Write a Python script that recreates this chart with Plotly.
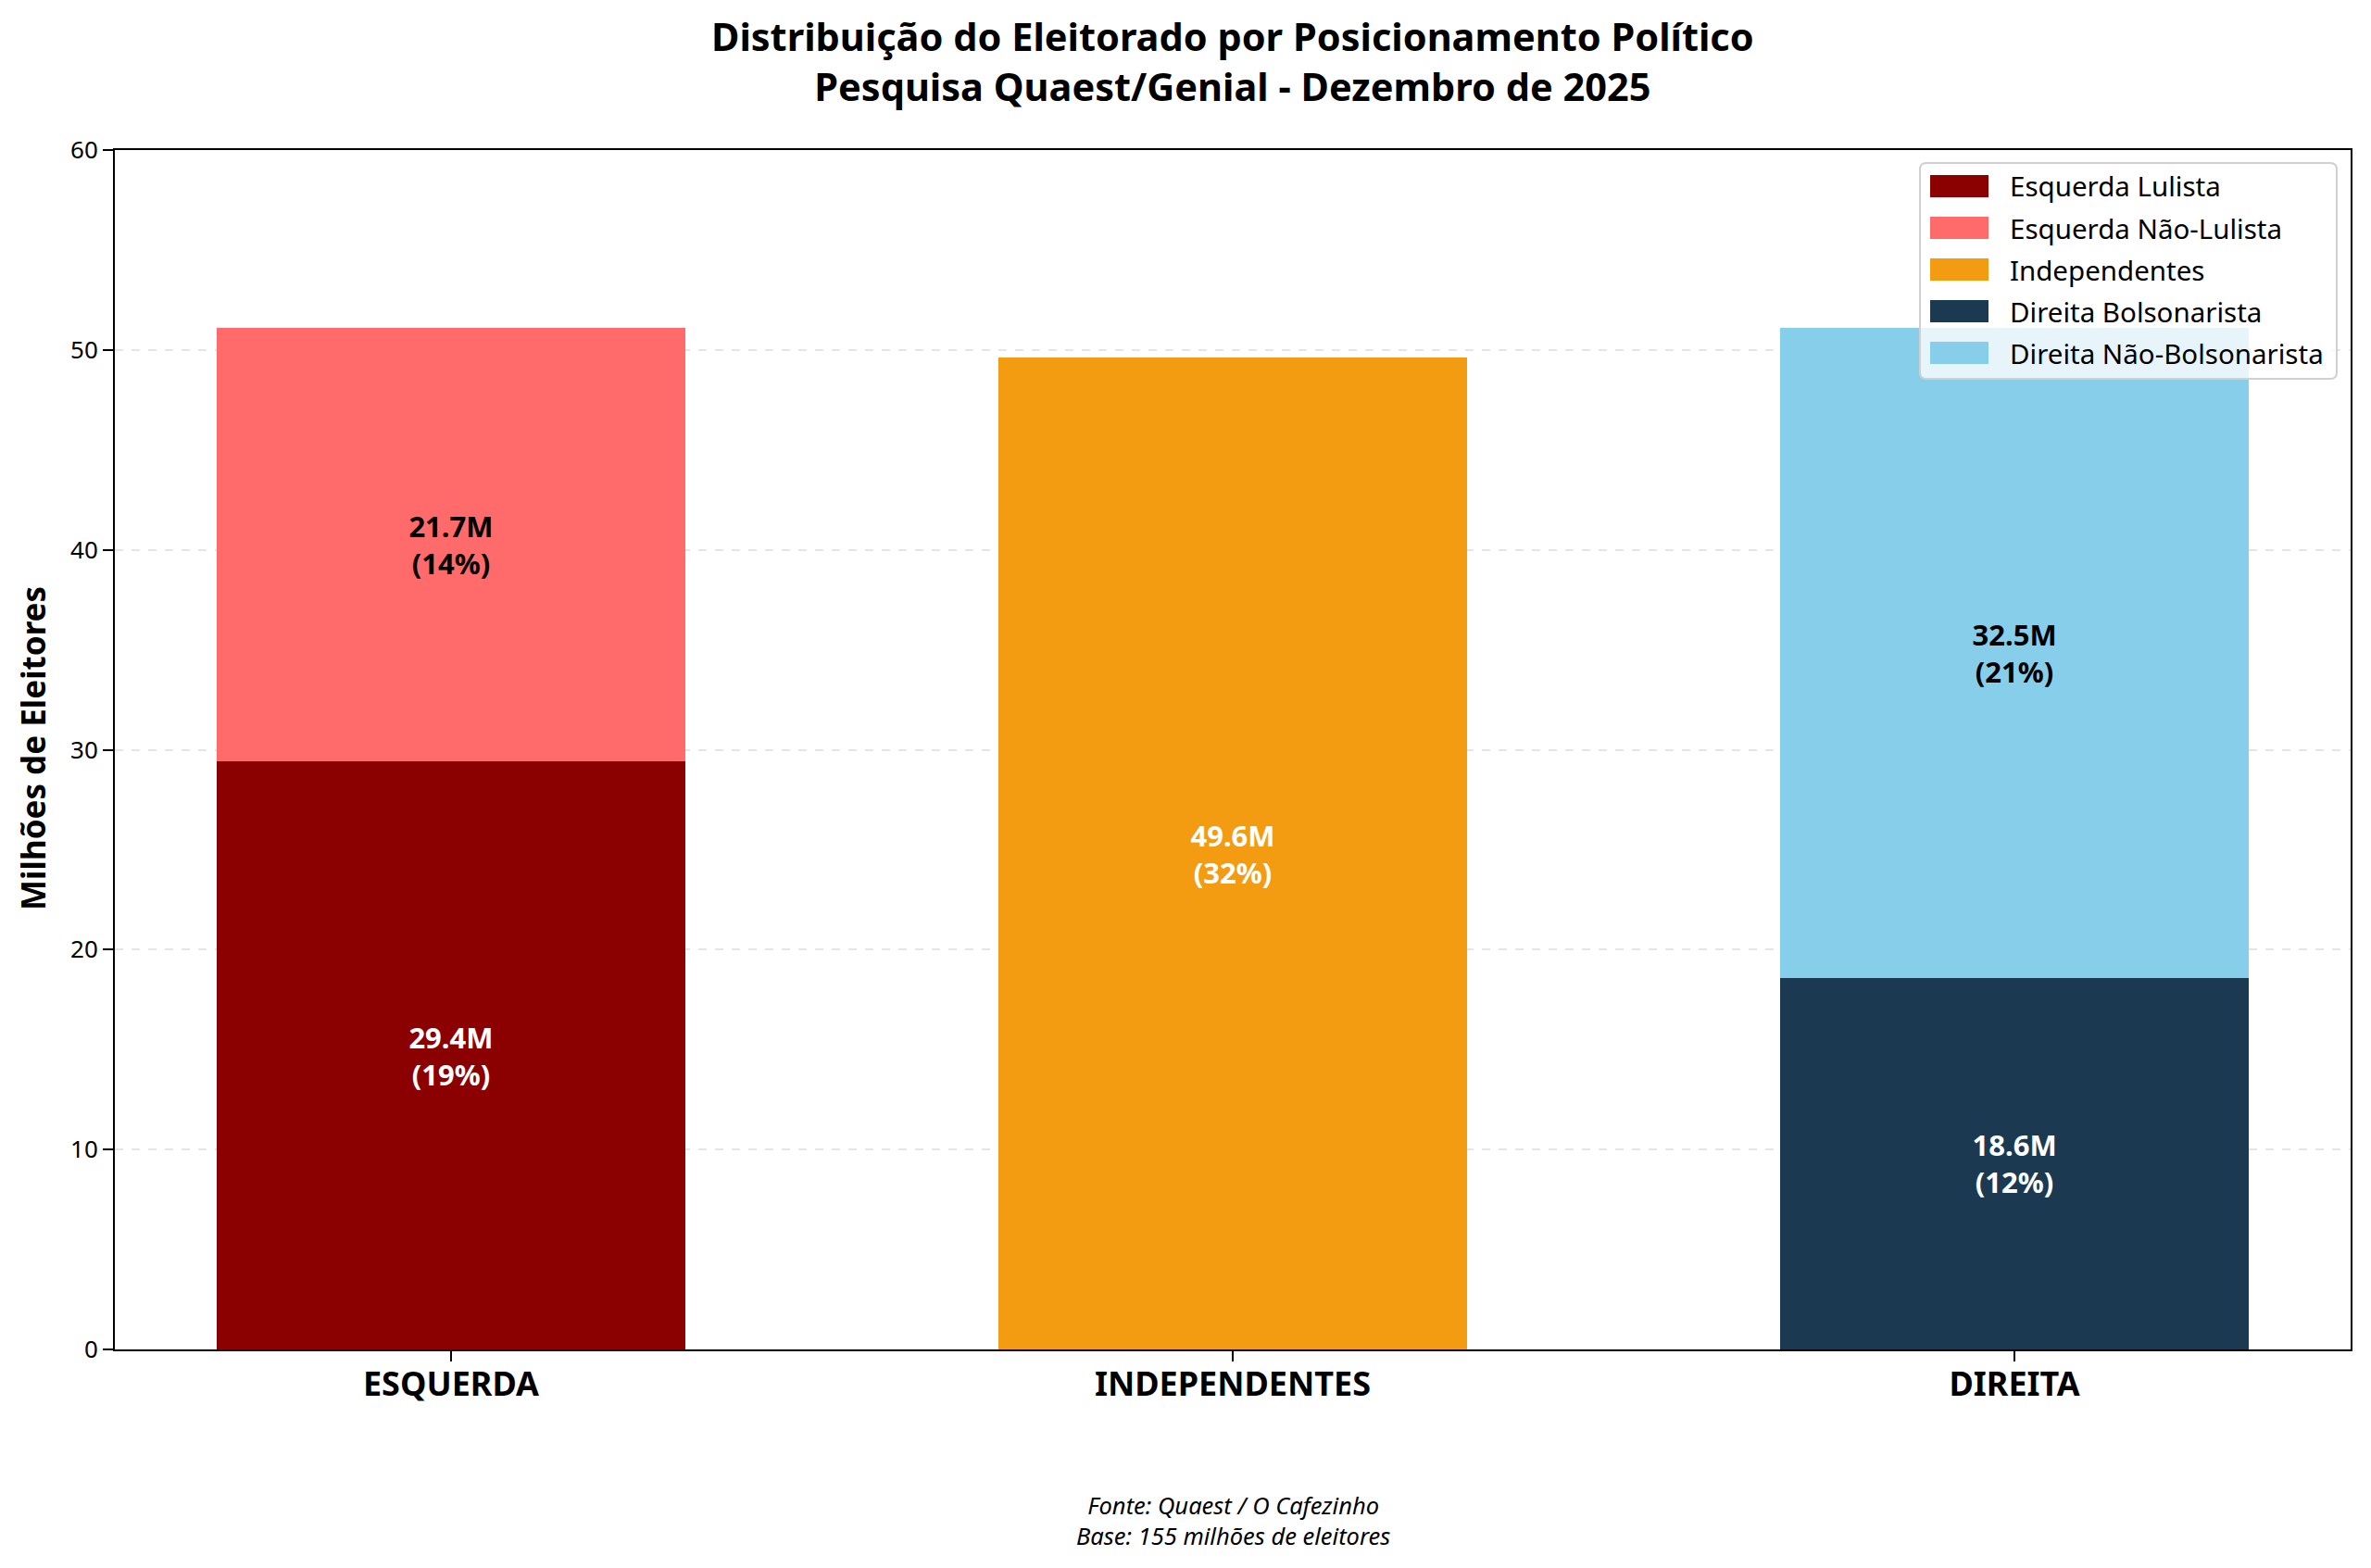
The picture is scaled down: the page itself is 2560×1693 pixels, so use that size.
import plotly.graph_objects as go

categories = ["ESQUERDA", "INDEPENDENTES", "DIREITA"]
series_names = ["Esquerda Lulista", "Esquerda Não-Lulista", "Independentes",
                "Direita Bolsonarista", "Direita Não-Bolsonarista"]
series_cat = [0, 0, 1, 2, 2]
series_values = [29.4, 21.7, 49.6, 18.6, 32.5]
series_pct = [19, 14, 32, 12, 21]
series_colors = ["#8B0000", "#FF6B6B", "#F39C12", "#1B3A52", "#87CEEB"]
label_colors = ["white", "black", "white", "white", "black"]
y_ticks = [0, 10, 20, 30, 40, 50, 60]

FONT = "Noto Sans"
W, H = 2560, 1693
PX0, PX1, PY0, PY1 = 124, 2538, 162, 1457


def px(x):
    return (x - PX0) / (PX1 - PX0)


def py(y):
    return (PY1 - y) / (PY1 - PY0)


fig = go.Figure()
for name, c, v, p, col, lc in zip(series_names, series_cat, series_values,
                                    series_pct, series_colors, label_colors):
    fig.add_trace(go.Bar(
        x=[c], y=[v], name=name, width=0.6, showlegend=False,
        marker=dict(color=col, line=dict(width=0)),
        text=[f"<b>{v:.1f}M<br>({p}%)</b>"],
        textposition="inside", insidetextanchor="middle", textangle=0,
        textfont=dict(family=FONT, size=31, color=lc),
        hoverinfo="skip",
    ))

fig.update_layout(
    barmode="stack",
    width=W, height=H,
    margin=dict(l=PX0, r=W - PX1, t=PY0, b=H - PY1),
    paper_bgcolor="white", plot_bgcolor="white",
    font=dict(family=FONT, color="black"),
    showlegend=False,
)

# Title (two lines)
fig.add_annotation(text="<b>Distribuição do Eleitorado por Posicionamento Político"
                        "<br>Pesquisa Quaest/Genial - Dezembro de 2025</b>",
                   x=0.5, xref="paper", xanchor="center", y=py(66), yref="paper",
                   yanchor="middle", showarrow=False,
                   font=dict(family=FONT, size=41.5, color="black"))

# Footer (two lines)
fig.add_annotation(text="<i>Fonte: Quaest / O Cafezinho<br>Base: 155 milhões de eleitores</i>",
                   x=0.5, xref="paper", xanchor="center", y=py(1641), yref="paper",
                   yanchor="middle", showarrow=False,
                   font=dict(family=FONT, size=25.5, color="black"))

# Y axis title
fig.add_annotation(text="<b>Milhões de Eleitores</b>", textangle=-90,
                   x=px(35), xref="paper", xanchor="center",
                   y=py(808), yref="paper", yanchor="middle", showarrow=False,
                   font=dict(family=FONT, size=35, color="black"))

# Legend box (rounded, semi-transparent)
LX0, LX1, LY0, LY1, R = 2073, 2523, 176, 409, 7
rx = R / (PX1 - PX0)
ry = R / (PY1 - PY0)
a, b, c, d = px(LX0), px(LX1), py(LY0), py(LY1)
path = (f"M {a + rx},{c} L {b - rx},{c} Q {b},{c} {b},{c - ry} "
        f"L {b},{d + ry} Q {b},{d} {b - rx},{d} L {a + rx},{d} "
        f"Q {a},{d} {a},{d + ry} L {a},{c - ry} Q {a},{c} {a + rx},{c} Z")
fig.add_shape(type="path", path=path, xref="paper", yref="paper",
              fillcolor="rgba(255,255,255,0.8)",
              line=dict(color="#d0d0d0", width=2), layer="above")
for i, (name, col) in enumerate(zip(series_names, series_colors)):
    yc = 201 + 45 * i
    fig.add_shape(type="rect", xref="paper", yref="paper",
                  x0=px(2084), x1=px(2147), y0=py(yc - 12), y1=py(yc + 12),
                  fillcolor=col, line=dict(width=0), layer="above")
    fig.add_annotation(text=name, x=px(2168), xref="paper", xanchor="left",
                       y=py(yc), yref="paper", yanchor="middle",
                       showarrow=False,
                       font=dict(family=FONT, size=29.5, color="black"))

fig.update_xaxes(
    range=[-0.43, 2.43], tickmode="array", tickvals=[0, 1, 2],
    ticktext=[f"<b>{c}</b>" for c in categories],
    tickfont=dict(family=FONT, size=36, color="black"),
    ticks="outside", ticklen=11, tickwidth=2, tickcolor="black",
    ticklabelstandoff=-6,
    showline=True, linecolor="black", linewidth=2, mirror=True,
    showgrid=False, zeroline=False, fixedrange=True,
)
fig.update_yaxes(
    range=[0, 60], tickmode="array", tickvals=y_ticks,
    tickfont=dict(family=FONT, size=26, color="black"),
    ticks="outside", ticklen=11, tickwidth=2, tickcolor="black",
    showline=True, linecolor="black", linewidth=2, mirror=True,
    showgrid=True, gridcolor="rgba(0,0,0,0.1)", gridwidth=2, griddash="dash",
    zeroline=False,
)

fig.write_html("out.html", config={"displayModeBar": False},
               post_script="document.body.style.margin='0px';"
                           "document.body.style.overflow='hidden';")
